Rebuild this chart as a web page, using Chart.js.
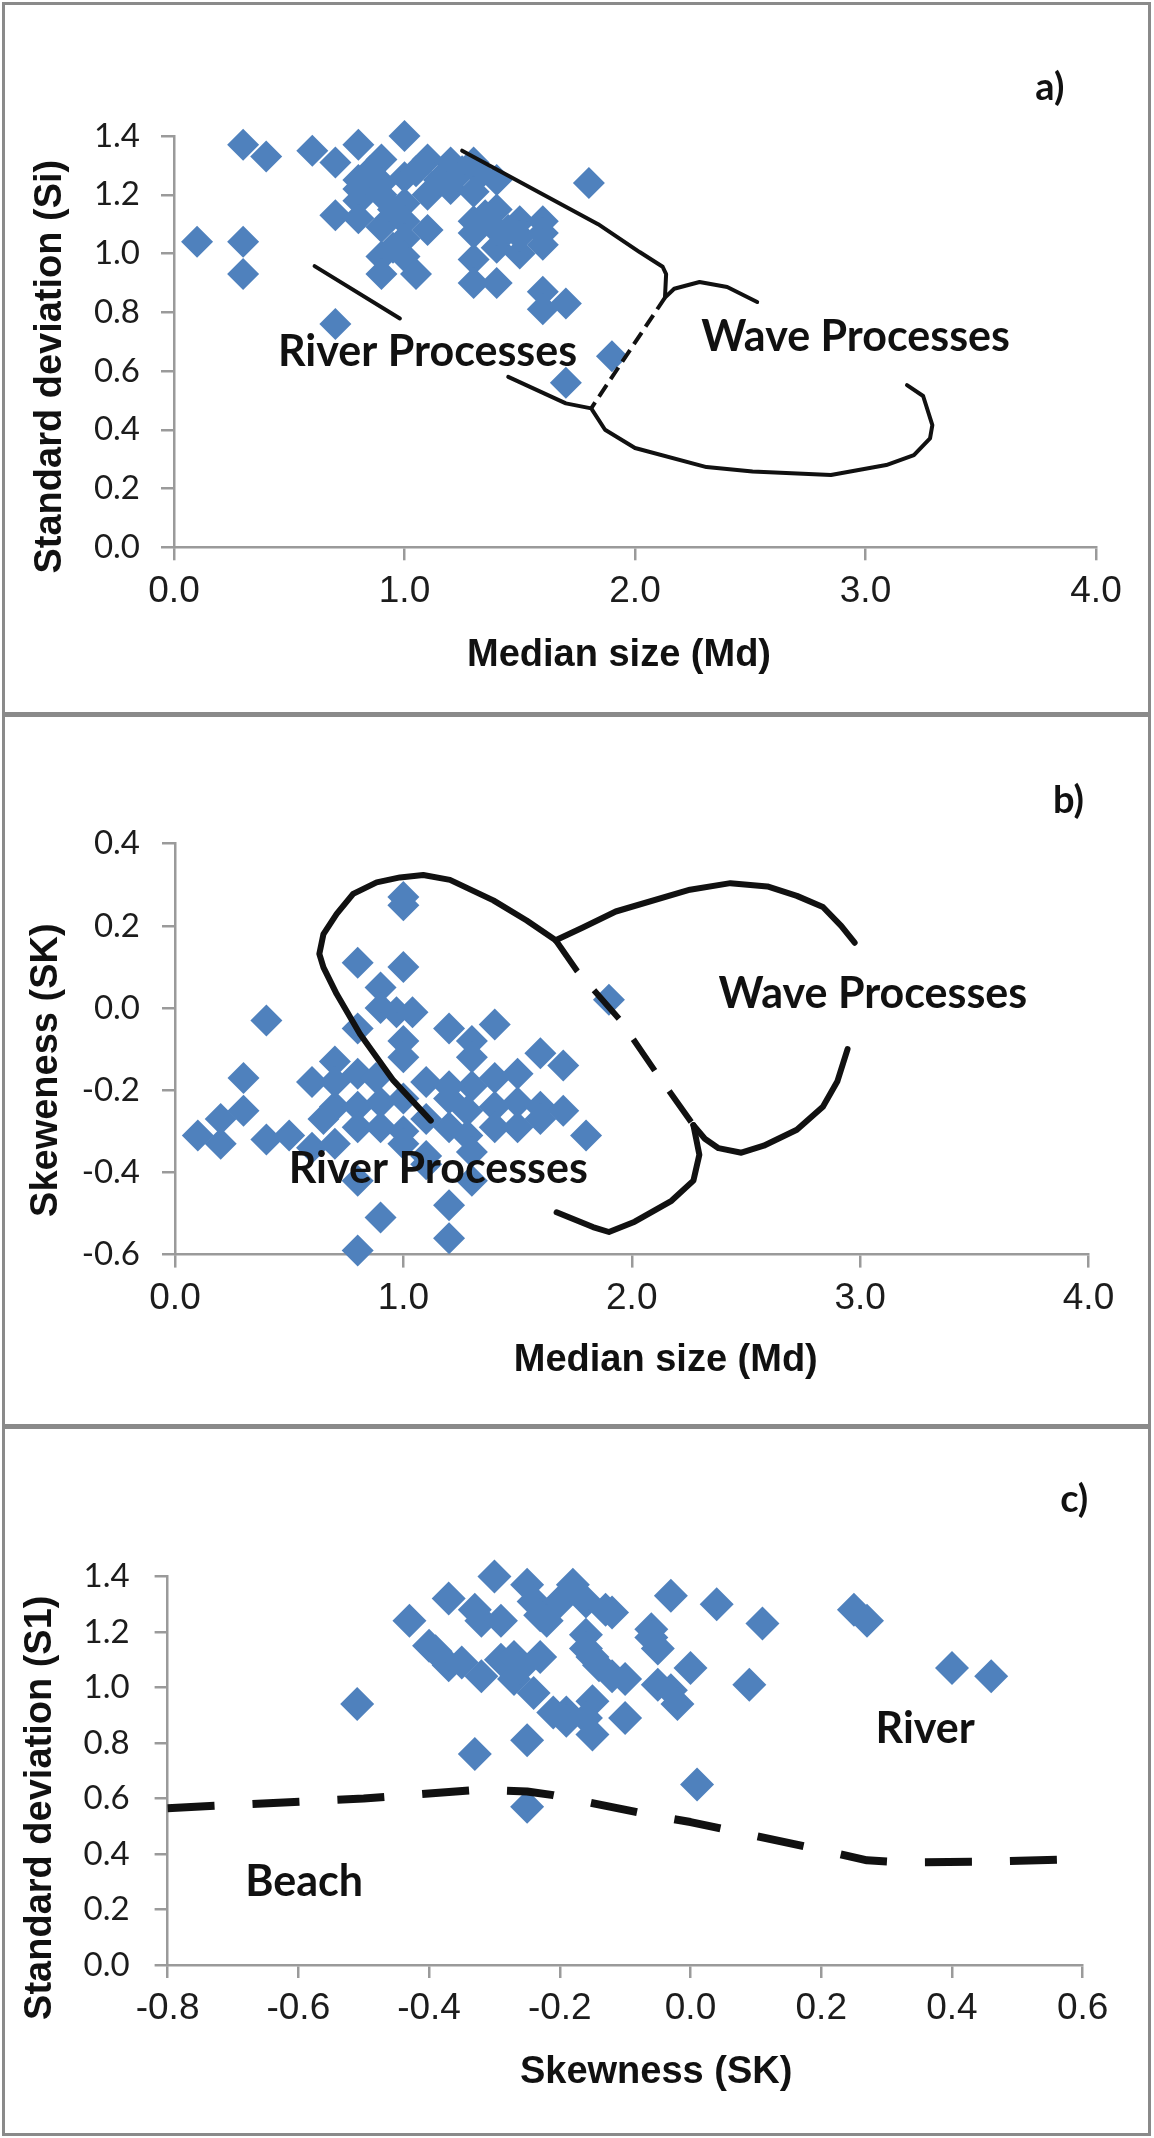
<!DOCTYPE html>
<html>
<head>
<meta charset="utf-8">
<title>Grain size bivariate plots</title>
<script src="https://cdn.jsdelivr.net/npm/chart.js@4.4.1/dist/chart.umd.min.js"></script>
<style>
  html, body { margin: 0; padding: 0; background: #fff; }
  body { width: 1154px; height: 2138px; position: relative; overflow: hidden; }
  .panel { position: absolute; left: 2px; width: 1149px; box-sizing: border-box; border: 3px solid #8a8a8a; background: #fff; }
  .panel canvas { position: absolute; left: 0; top: 0; }
</style>
</head>
<body>
<div class="panel" style="top:2px;height:713px"><canvas id="chartA" width="1143" height="707"></canvas></div>
<div class="panel" style="top:714px;height:713px"><canvas id="chartB" width="1143" height="707"></canvas></div>
<div class="panel" style="top:1426px;height:710px"><canvas id="chartC" width="1143" height="704"></canvas></div>
<script>
// ---- panel a: median size vs standard deviation ----
const mdA = [0.1, 0.3, 0.3, 0.3, 0.4, 0.6, 0.7, 0.7, 0.7, 0.8, 0.8, 0.8, 0.8, 0.8, 0.9, 0.9,
  0.9, 0.9, 0.9, 0.9, 0.85, 1.0, 1.0, 1.0, 1.0, 1.0, 1.0, 1.05, 0.95, 1.1, 1.1, 1.1,
  1.05, 1.2, 1.2, 1.25, 1.3, 1.33, 1.4, 1.3, 1.3, 1.3, 1.3, 1.3, 1.4, 1.4, 1.4, 1.4,
  1.5, 1.5, 1.5, 1.6, 1.6, 1.6, 1.6, 1.6, 1.7, 1.7, 1.8, 1.9, 1.35, 1.45, 0.95, 1.15];
const siA = [1.04, 1.04, 0.93, 1.37, 1.33, 1.35, 1.31, 1.13, 0.76, 1.37, 1.25, 1.18, 1.12, 1.22, 1.32, 1.24,
  1.20, 1.09, 0.99, 0.93, 1.28, 1.40, 1.26, 1.17, 1.11, 1.05, 0.99, 0.93, 1.02, 1.32, 1.08, 1.20,
  1.28, 1.31, 1.22, 1.28, 1.31, 1.27, 1.25, 1.21, 1.11, 1.07, 0.98, 0.90, 1.15, 1.02, 0.90, 1.08,
  1.11, 1.00, 1.06, 1.11, 1.07, 1.03, 0.87, 0.81, 0.83, 0.56, 1.24, 0.65, 1.13, 1.08, 1.15, 1.25];
const aUpperLine = [[1.25, 1.35], [1.84, 1.10], [2.02, 1.005], [2.12, 0.955], [2.135, 0.93], [2.13, 0.85],
  [2.17, 0.88], [2.28, 0.903], [2.40, 0.886], [2.53, 0.835]];
const aDashLine = [[2.13, 0.85], [1.81, 0.473]];
const aLowerLine = [[1.45, 0.58], [1.70, 0.49], [1.81, 0.473], [1.87, 0.40], [2.0, 0.338], [2.31, 0.273],
  [2.51, 0.258], [2.85, 0.246], [3.09, 0.28], [3.21, 0.314], [3.28, 0.371], [3.29, 0.416], [3.25, 0.515], [3.18, 0.552]];
const aShortLine = [[0.61, 0.957], [0.98, 0.779]];

// ---- panel b: median size vs skewness ----
const mdB = [0.1, 0.2, 0.2, 0.3, 0.3, 0.4, 0.5, 0.4, 0.6, 0.6, 0.7, 0.7, 0.7, 0.7, 0.8, 0.8,
  0.8, 0.8, 0.8, 0.8, 0.8, 0.9, 0.9, 0.9, 0.88, 0.9, 0.9, 1.0, 1.0, 1.0, 0.97, 1.04,
  1.0, 1.0, 1.0, 1.0, 1.0, 1.1, 1.1, 1.1, 1.2, 1.2, 1.2, 1.2, 1.2, 1.3, 1.3, 1.3,
  1.28, 1.28, 1.3, 1.3, 1.4, 1.4, 1.4, 1.4, 1.5, 1.5, 1.5, 1.6, 1.6, 1.6, 1.7, 1.7,
  1.8, 1.9, 0.65, 1.1, 1.2];
const skB = [-0.31, -0.33, -0.27, -0.17, -0.25, -0.32, -0.31, -0.03, -0.18, -0.34, -0.13, -0.24, -0.33, -0.18, 0.11, -0.05,
  -0.16, -0.24, -0.29, -0.42, -0.59, -0.51, 0.05, 0.0, -0.17, -0.23, -0.29, 0.27, 0.25, 0.10, -0.01, -0.01,
  -0.08, -0.12, -0.22, -0.30, -0.33, -0.18, -0.27, -0.36, -0.05, -0.22, -0.29, -0.48, -0.56, -0.08, -0.12, -0.19,
  -0.25, -0.31, -0.35, -0.42, -0.04, -0.17, -0.24, -0.29, -0.16, -0.23, -0.29, -0.11, -0.24, -0.27, -0.14, -0.25,
  -0.31, 0.02, -0.27, -0.38, -0.19];
const bLeftLoop = [[1.12, -0.274], [0.956, -0.176], [0.81, -0.063], [0.708, 0.034], [0.65, 0.099], [0.632, 0.132],
  [0.65, 0.18], [0.708, 0.229], [0.78, 0.278], [0.883, 0.306], [0.985, 0.318], [1.087, 0.324], [1.204, 0.312],
  [1.394, 0.262], [1.54, 0.213], [1.667, 0.165]];
const bDashLine = [[1.667, 0.165], [1.76, 0.091], [1.95, -0.03], [2.11, -0.16], [2.27, -0.285]];
const bLowerLine = [[2.27, -0.285], [2.296, -0.357], [2.27, -0.42], [2.174, -0.469], [2.013, -0.52], [1.9, -0.545],
  [1.83, -0.533], [1.671, -0.497]];
const bRightTop = [[1.667, 0.165], [1.786, 0.196], [1.93, 0.235], [2.255, 0.288], [2.432, 0.304], [2.594, 0.296],
  [2.723, 0.273], [2.837, 0.246], [2.917, 0.2], [2.976, 0.159]];
const bRightBottom = [[2.945, -0.1], [2.9, -0.179], [2.837, -0.24], [2.723, -0.296], [2.578, -0.335], [2.48, -0.352],
  [2.38, -0.341], [2.32, -0.318], [2.27, -0.285]];

// ---- panel c: skewness vs standard deviation ----
const skC = [-0.51, -0.43, -0.37, -0.40, -0.39, -0.37, -0.35, -0.33, -0.33, -0.32, -0.30, -0.29, -0.32, -0.29, -0.27, -0.25,
  -0.24, -0.23, -0.27, -0.24, -0.26, -0.23, -0.25, -0.25, -0.20, -0.18, -0.16, -0.19, -0.19, -0.16, -0.16, -0.15,
  -0.15, -0.16, -0.15, -0.13, -0.14, -0.12, -0.10, -0.10, -0.06, -0.05, -0.05, -0.03, -0.02, -0.03, 0.0, 0.01,
  0.04, 0.09, 0.11, 0.25, 0.27, 0.40, 0.46, -0.21, -0.22, -0.12, -0.06];
const s1C = [0.94, 1.24, 1.32, 1.15, 1.13, 1.08, 1.09, 0.76, 1.28, 1.24, 1.40, 1.24, 1.04, 1.10, 1.11, 1.37,
  1.31, 1.26, 1.03, 0.98, 1.07, 1.11, 0.81, 0.57, 1.31, 1.37, 1.31, 0.91, 0.88, 1.19, 1.14, 1.11,
  0.95, 0.89, 0.83, 1.28, 1.08, 1.04, 0.89, 1.03, 1.21, 1.14, 1.01, 0.99, 0.94, 1.33, 1.07, 0.65,
  1.30, 1.01, 1.23, 1.28, 1.24, 1.07, 1.04, 0.91, 1.24, 1.27, 1.18];
const cBoundary = [[-0.8, 0.565], [-0.5, 0.6], [-0.32, 0.632], [-0.25, 0.625], [-0.21, 0.612], [-0.06, 0.54],
  [0.0, 0.515], [0.2, 0.415], [0.27, 0.377], [0.32, 0.37], [0.45, 0.372], [0.6, 0.382]];

const POINT_COLOR = '#4F81BD';
const AXIS_COLOR = '#9a9a9a';
const TICK_COLOR = '#1c1c1c';

Chart.defaults.font.family = '"Liberation Sans", Arial, sans-serif';

const pairs = (xs, ys) => xs.map((x, i) => ({ x, y: ys[i] }));
const toXY = pts => pts.map(([x, y]) => ({ x, y }));
const fmt = v => (Math.abs(v) < 1e-9 ? 0 : v).toFixed(1);

function lineSet(pts, width, dash) {
  return {
    data: toXY(pts), showLine: true, borderColor: '#111', borderWidth: width,
    borderDash: dash || [], pointRadius: 0, fill: false, tension: 0,
    borderCapStyle: dash ? 'butt' : 'round', borderJoinStyle: 'round', clip: false, order: 0
  };
}

// draws the panel letter, the region names and the axis titles
const textPlugin = {
  id: 'panelText',
  afterDatasetsDraw(chart, args, opts) {
    const { ctx, chartArea: ca, scales: { x, y } } = chart;
    ctx.save();
    ctx.fillStyle = '#111';
    ctx.textAlign = 'center';
    ctx.textBaseline = 'alphabetic';
    for (const l of opts.labels) {
      ctx.font = l.font;
      ctx.fillText(l.text, x.getPixelForValue(l.x), y.getPixelForValue(l.y));
    }
    ctx.font = 'bold 38px "Liberation Sans", Arial, sans-serif';
    ctx.fillText(opts.xTitle.text, (ca.left + ca.right) / 2 + opts.xTitle.dx, ca.bottom + opts.xTitle.dy);
    ctx.translate(ca.left + opts.yTitle.dx, (ca.top + ca.bottom) / 2 + opts.yTitle.dy);
    ctx.rotate(-Math.PI / 2);
    ctx.fillText(opts.yTitle.text, 0, 0);
    ctx.restore();
  }
};

function axis(min, max, step, pad, size, isX) {
  return {
    type: 'linear', min, max,
    ticks: { stepSize: step, callback: fmt, color: TICK_COLOR, padding: pad, autoSkip: false, maxRotation: 0,
      font: isX ? { size: 37 } : { size: 33, family: 'Lato, "Liberation Sans", sans-serif' } },
    grid: { drawOnChartArea: false, drawTicks: true, tickLength: 13, color: AXIS_COLOR, lineWidth: 2.5 },
    border: { display: true, color: AXIS_COLOR, width: 2.5 },
    afterFit: s => { if (isX) s.height = size; else s.width = size; }
  };
}

function buildPanel(id, p) {
  const canvas = document.getElementById(id);
  const W = canvas.width, H = canvas.height;
  const datasets = p.lines.map(l => lineSet(l.pts, l.width, l.dash));
  datasets.push({
    data: p.points, pointStyle: 'rectRot', pointRadius: p.radius, pointHoverRadius: p.radius,
    backgroundColor: POINT_COLOR, borderWidth: 0, showLine: false, clip: false, order: 1
  });
  return new Chart(canvas, {
    type: 'scatter',
    data: { datasets },
    options: {
      responsive: false, animation: false, events: [],
      layout: { padding: { left: 0, top: p.area.top, right: W - p.area.right, bottom: 0 } },
      plugins: {
        legend: { display: false }, tooltip: { enabled: false },
        panelText: { labels: p.labels, xTitle: p.xTitle, yTitle: p.yTitle }
      },
      scales: {
        x: axis(p.x[0], p.x[1], p.x[2], 9, H - p.area.bottom, true),
        y: axis(p.y[0], p.y[1], p.y[2], p.yPad, p.area.left, false)
      }
    },
    plugins: [textPlugin]
  });
}

const LABEL_FONT = 'bold 43px Lato, "Noto Sans", sans-serif';
const LETTER_FONT = 'bold 38px Lato, "Noto Sans", sans-serif';

buildPanel('chartA', {
  area: { left: 169, right: 1091, top: 131, bottom: 542.3 },
  x: [0, 4, 1], y: [0, 1.4, 0.2], yPad: 21, radius: 16,
  points: pairs(mdA, siA),
  lines: [
    { pts: aUpperLine, width: 4 }, { pts: aLowerLine, width: 4 },
    { pts: aShortLine, width: 4 }, { pts: aDashLine, width: 4, dash: [14, 7] }
  ],
  labels: [
    { text: 'River Processes', x: 1.10, y: 0.617, font: LABEL_FONT },
    { text: 'Wave Processes', x: 2.957, y: 0.669, font: LABEL_FONT },
    { text: 'a)', x: 3.80, y: 1.524, font: LETTER_FONT }
  ],
  xTitle: { text: 'Median size (Md)', dx: -16, dy: 119 },
  yTitle: { text: 'Standard deviation (Si)', dx: -113, dy: 25 }
});

buildPanel('chartB', {
  area: { left: 170, right: 1083.5, top: 126.7, bottom: 537.6 },
  x: [0, 4, 1], y: [-0.6, 0.4, 0.2], yPad: 22, radius: 16,
  points: pairs(mdB, skB),
  lines: [
    { pts: bLeftLoop, width: 6 }, { pts: bLowerLine, width: 6 },
    { pts: bRightTop, width: 6 }, { pts: bRightBottom, width: 6 },
    { pts: bDashLine, width: 6, dash: [38, 25] }
  ],
  labels: [
    { text: 'River Processes', x: 1.153, y: -0.426, font: LABEL_FONT },
    { text: 'Wave Processes', x: 3.056, y: 0.0, font: LABEL_FONT },
    { text: 'b)', x: 3.912, y: 0.474, font: LETTER_FONT }
  ],
  xTitle: { text: 'Median size (Md)', dx: 34, dy: 116 },
  yTitle: { text: 'Skeweness (SK)', dx: -118, dy: 21 }
});

buildPanel('chartC', {
  area: { left: 162.6, right: 1077.7, top: 147.4, bottom: 536 },
  x: [-0.8, 0.6, 0.2], y: [0, 1.4, 0.2], yPad: 25, radius: 17,
  points: pairs(skC, s1C),
  lines: [{ pts: cBoundary, width: 8, dash: [47, 38] }],
  labels: [
    { text: 'River', x: 0.359, y: 0.80, font: LABEL_FONT },
    { text: 'Beach', x: -0.591, y: 0.247, font: LABEL_FONT },
    { text: 'c)', x: 0.587, y: 1.632, font: LETTER_FONT }
  ],
  xTitle: { text: 'Skewness (SK)', dx: 31, dy: 118 },
  yTitle: { text: 'Standard deviation (S1)', dx: -117, dy: 37 }
});
</script>
</body>
</html>
